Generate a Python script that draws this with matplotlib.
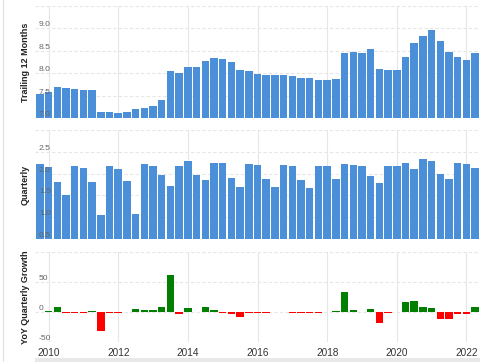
import numpy as np
import matplotlib
matplotlib.use('Agg')
from matplotlib import pyplot as plt
from matplotlib import transforms
from matplotlib.patches import Rectangle
from matplotlib.lines import Line2D

# quarter end dates as decimal years, 2009-09-30 .. 2022-03-31
quarters = [2009.75 + 0.25*i for i in range(51)]

trailing = [7.54, 7.57, 7.69, 7.67, 7.64, 7.62, 7.63, 7.14, 7.13, 7.11,
			7.13, 7.19, 7.23, 7.27, 7.41, 8.05, 8.01, 8.13, 8.14, 8.27,
			8.35, 8.31, 8.24, 8.07, 8.04, 7.99, 7.96, 7.96, 7.96, 7.93,
			7.90, 7.89, 7.85, 7.85, 7.87, 8.44, 8.47, 8.46, 8.54, 8.10,
			8.08, 8.07, 8.36, 8.68, 8.84, 8.96, 8.71, 8.47, 8.36, 8.30,
			8.45]

quarterly = [2.21, 2.14, 1.81, 1.52, 2.17, 2.13, 1.81, 1.04, 2.17, 2.11,
			 1.82, 1.08, 2.21, 2.17, 1.97, 1.72, 2.17, 2.28, 1.97, 1.85,
			 2.25, 2.24, 1.90, 1.69, 2.21, 2.20, 1.87, 1.69, 2.19, 2.17,
			 1.85, 1.66, 2.17, 2.18, 1.88, 2.22, 2.20, 2.17, 1.95, 1.78,
			 2.18, 2.17, 2.24, 2.11, 2.34, 2.28, 1.98, 1.88, 2.24, 2.21,
			 2.13]

# first quarter has no growth value
growth = [0, 2, 8, -2, -2, -2, 1, -32, -2, -2,
		  0.5, 5, 3, 3, 9, 61, -3, 6, 0.5, 8,
		  4, -2, -3, -8, -2, -1, -2, -0.5, -0.5, -1,
		  -1, -1, -2, 0.5, 1, 34, 3, -0.5, 5, -19,
		  -1, -0.5, 16, 19, 8, 6, -12, -12, -4, -3,
		  8]

yearTicks  = [2010, 2012, 2014, 2016, 2018, 2020, 2022]
panelNames = ['Trailing 12 Months', 'Quarterly', 'YoY Quarterly Growth']
gridVals   = [[7.0, 7.5, 8.0, 8.5, 9.0, 9.5],
			  [0.5, 1.0, 1.5, 2.0, 2.5, 3.0],
			  [-50, 0, 50, 100]]
tickVals   = [[7.0, 7.5, 8.0, 8.5, 9.0],
			  [0.5, 1.0, 1.5, 2.0, 2.5],
			  [-50, 0, 50]]
tickText   = [['7.0', '7.5', '8.0', '8.5', '9.0'],
			  ['0.5', '1.0', '1.5', '2.0', '2.5'],
			  ['-50', '0', '50']]

W, H = 500, 362
blue  = '#4a8fd8'
green = '#007f00'
red   = '#fe0000'
gridc = '#e6e6e6'

plt.rcParams['font.family'] = ['Liberation Sans', 'DejaVu Sans']

fig = plt.figure(figsize=(W/100, H/100), dpi=100)
fig.patch.set_facecolor('white')

# axes boxes in pixels: (top, bottom)
boxes = [(6, 118), (130, 239), (252, 342)]
axes  = []
for (top, bot) in boxes:
	ax = fig.add_axes([35/W, (H-bot)/H, 445/W, (bot-top)/H])
	axes.append(ax)

series = [trailing, quarterly, growth]
barW   = 0.25*0.86

for k, ax in enumerate(axes):
	vals = series[k]
	if k == 2:
		cols = [green if v >= 0 else red for v in vals]
		ax.bar(quarters, vals, width=barW, color=cols, zorder=2)
	else:
		base = gridVals[k][0]
		ax.bar(quarters, [v - base for v in vals], bottom=base, width=barW,
			   color=blue, zorder=2)

	ax.set_xlim(2009.61, 2022.39)
	ax.set_ylim(gridVals[k][0], gridVals[k][-1])

	for g in gridVals[k]:
		ax.axhline(g, color=gridc, lw=0.8, ls=(0, (3, 2)), zorder=0)
	for yr in yearTicks:
		ax.axvline(yr, color=gridc, lw=0.8, zorder=0)

	ax.set_yticks([])
	ax.set_xticks(yearTicks)
	for s in ax.spines.values():
		s.set_visible(False)

	# y labels drawn inside the plot, above the grid lines
	trans = transforms.blended_transform_factory(ax.transAxes, ax.transData)
	trans = transforms.offset_copy(trans, fig=fig, x=4, y=3.5, units='dots')
	for v, t in zip(tickVals[k], tickText[k]):
		ax.text(0, v, t, transform=trans, ha='left', va='center',
				fontsize=6.1, color='#666666', zorder=5)

	ax.set_ylabel(panelNames[k], fontsize=6.5, fontweight='bold', color='#222222')
	ax.yaxis.set_label_coords(-0.012, 0.5)

	if k < 2:
		ax.tick_params(axis='x', length=0, labelbottom=False)
	else:
		ax.tick_params(axis='x', length=0, pad=4.5, labelsize=7.2, labelcolor='#333333')

# light frame details
fig.add_artist(Line2D([3/W, 3/W], [0, 1], color='#e0e0e0', lw=0.8))
fig.add_artist(Rectangle((35/W, 0), 445/W, 4/H, color='#e8e8e8', lw=0))

fig.savefig('out.png', dpi=100)
